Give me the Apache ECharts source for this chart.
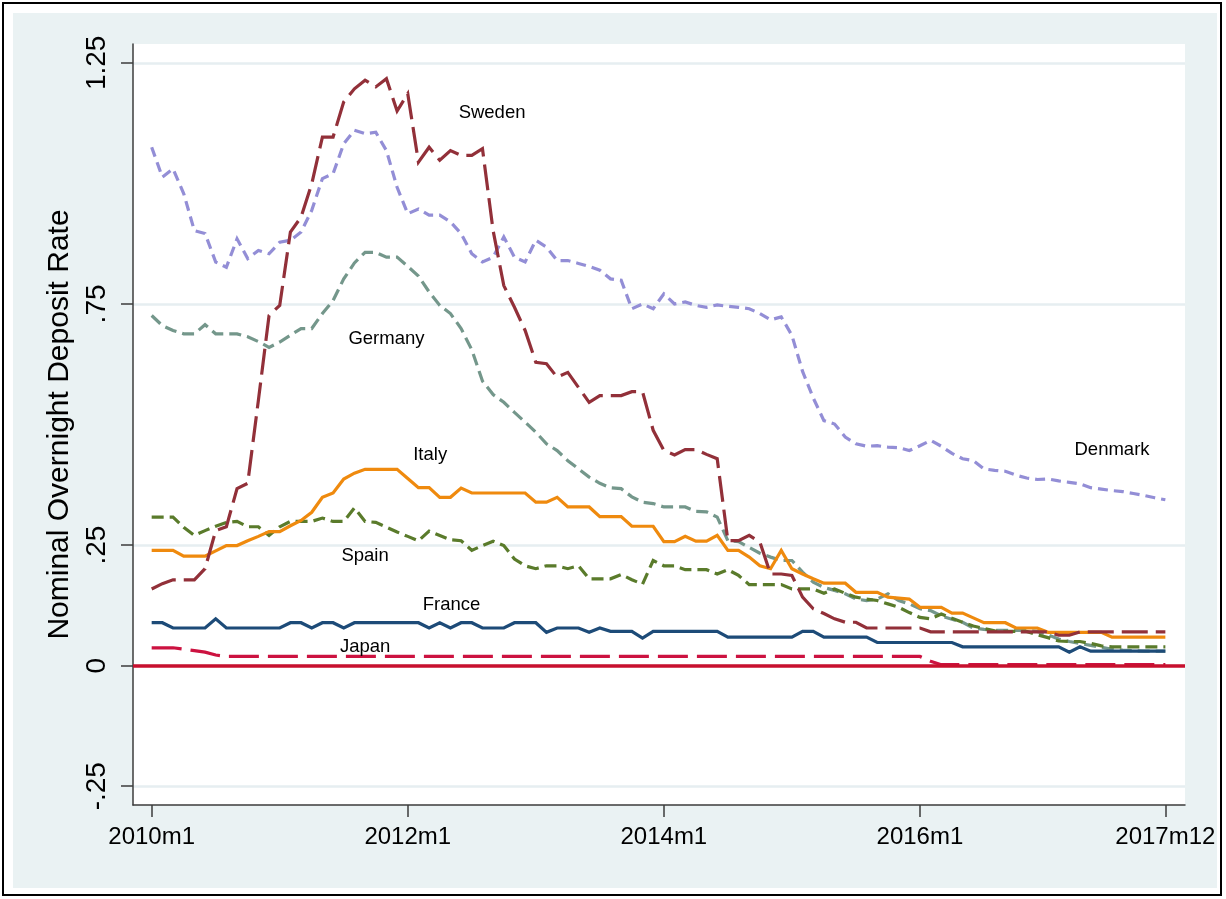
<!DOCTYPE html>
<html>
<head>
<meta charset="utf-8">
<title>Nominal Overnight Deposit Rate</title>
<script src="https://cdn.jsdelivr.net/npm/echarts@6/dist/echarts.min.js"></script>
<style>
  html, body { margin: 0; padding: 0; background: #ffffff; }
  #frame { position: absolute; left: 2px; top: 2px; width: 1220px; height: 894px;
           box-sizing: border-box; border: 2px solid #000; background: #ffffff; }
  #panel { position: absolute; left: 13px; top: 13px; width: 1204px; height: 875px; background: #eaf2f3; }
  #chart { position: absolute; left: 0; top: 0; width: 1226px; height: 899px; }
</style>
</head>
<body>
<div id="frame"></div>
<div id="panel"></div>
<div id="chart"></div>
<script>
// Monthly series, 2010m1 .. 2017m12 (index 0 .. 95)
const sweden = [
  0.159,0.170,0.178,0.178,0.178,0.201,0.280,0.288,0.367,0.378,
  0.550,0.726,0.747,0.899,0.930,0.999,1.096,1.096,1.169,1.196,
  1.214,1.200,1.217,1.150,1.186,1.044,1.075,1.048,1.068,1.058,
  1.058,1.072,0.902,0.788,0.743,0.695,0.629,0.626,0.598,0.608,
  0.577,0.546,0.560,0.560,0.560,0.568,0.568,0.488,0.446,0.437,
  0.448,0.448,0.438,0.429,0.259,0.259,0.270,0.256,0.190,0.190,
  0.187,0.142,0.118,0.108,0.097,0.090,0.090,0.078,0.078,0.078,
  0.078,0.078,0.078,0.070,0.070,0.070,0.070,0.070,0.070,0.070,
  0.070,0.070,0.070,0.070,0.070,0.063,0.063,0.070,0.070,0.070,
  0.070,0.070,0.070,0.070,0.070,0.070
];
const denmark = [
  1.075,1.013,1.030,0.979,0.902,0.896,0.837,0.826,0.885,0.844,
  0.861,0.854,0.878,0.882,0.899,0.944,1.010,1.020,1.082,1.110,
  1.103,1.106,1.068,0.992,0.937,0.947,0.934,0.934,0.920,0.896,
  0.854,0.837,0.847,0.889,0.847,0.837,0.882,0.868,0.840,0.840,
  0.834,0.828,0.820,0.802,0.799,0.740,0.750,0.740,0.771,0.750,
  0.754,0.747,0.743,0.748,0.745,0.743,0.740,0.730,0.717,0.723,
  0.685,0.610,0.555,0.508,0.501,0.474,0.460,0.455,0.456,0.453,
  0.452,0.446,0.456,0.467,0.455,0.440,0.429,0.425,0.408,0.405,
  0.403,0.395,0.389,0.386,0.387,0.383,0.380,0.377,0.369,0.366,
  0.363,0.361,0.357,0.353,0.348,0.344
];
const germany = [
  0.726,0.705,0.695,0.688,0.688,0.707,0.688,0.688,0.688,0.682,
  0.672,0.660,0.671,0.685,0.699,0.699,0.730,0.757,0.802,0.835,
  0.857,0.857,0.847,0.847,0.828,0.808,0.775,0.747,0.730,0.699,
  0.655,0.590,0.562,0.546,0.525,0.505,0.484,0.460,0.446,0.425,
  0.408,0.391,0.378,0.369,0.367,0.350,0.339,0.336,0.329,0.329,
  0.329,0.320,0.319,0.308,0.259,0.257,0.245,0.233,0.225,0.218,
  0.218,0.194,0.173,0.162,0.156,0.149,0.138,0.135,0.138,0.149,
  0.135,0.128,0.118,0.114,0.103,0.096,0.090,0.078,0.075,0.073,
  0.073,0.073,0.073,0.071,0.064,0.055,0.050,0.046,0.042,0.038,
  0.034,0.032,0.031,0.030,0.030,0.030
];
const italy = [
  0.239,0.239,0.239,0.227,0.227,0.227,0.238,0.249,0.249,0.259,
  0.268,0.278,0.278,0.290,0.301,0.318,0.349,0.358,0.387,0.399,
  0.407,0.407,0.407,0.407,0.388,0.369,0.369,0.349,0.349,0.368,
  0.358,0.358,0.358,0.358,0.358,0.358,0.339,0.339,0.349,0.329,
  0.329,0.329,0.309,0.309,0.309,0.289,0.289,0.289,0.257,0.257,
  0.268,0.258,0.258,0.270,0.239,0.239,0.225,0.207,0.201,0.239,
  0.201,0.190,0.180,0.171,0.171,0.171,0.152,0.152,0.152,0.142,
  0.140,0.138,0.121,0.121,0.121,0.109,0.109,0.099,0.089,0.089,
  0.089,0.078,0.078,0.078,0.069,0.069,0.069,0.069,0.069,0.069,
  0.059,0.059,0.059,0.059,0.059,0.059
];
const spain = [
  0.308,0.308,0.308,0.287,0.270,0.280,0.289,0.297,0.299,0.288,
  0.288,0.270,0.288,0.299,0.299,0.299,0.306,0.299,0.299,0.327,
  0.299,0.297,0.287,0.277,0.268,0.259,0.279,0.270,0.261,0.259,
  0.239,0.249,0.258,0.249,0.221,0.207,0.201,0.207,0.207,0.201,
  0.207,0.180,0.180,0.180,0.189,0.178,0.169,0.218,0.207,0.207,
  0.199,0.199,0.199,0.190,0.199,0.187,0.168,0.168,0.168,0.168,
  0.159,0.159,0.159,0.150,0.159,0.150,0.142,0.138,0.135,0.128,
  0.121,0.110,0.100,0.097,0.107,0.098,0.090,0.082,0.077,0.072,
  0.071,0.071,0.071,0.064,0.058,0.051,0.050,0.050,0.046,0.041,
  0.039,0.039,0.039,0.039,0.039,0.039
];
const france = [
  0.089,0.089,0.078,0.078,0.078,0.078,0.097,0.078,0.078,0.078,
  0.078,0.078,0.078,0.089,0.089,0.078,0.089,0.089,0.078,0.089,
  0.089,0.089,0.089,0.089,0.089,0.089,0.078,0.089,0.078,0.089,
  0.089,0.078,0.078,0.078,0.089,0.089,0.089,0.069,0.078,0.078,
  0.078,0.069,0.078,0.071,0.071,0.071,0.057,0.071,0.071,0.071,
  0.071,0.071,0.071,0.071,0.059,0.059,0.059,0.059,0.059,0.059,
  0.059,0.071,0.071,0.059,0.059,0.059,0.059,0.059,0.048,0.048,
  0.048,0.048,0.048,0.048,0.048,0.048,0.039,0.039,0.039,0.039,
  0.039,0.039,0.039,0.039,0.039,0.039,0.028,0.039,0.030,0.030,
  0.030,0.030,0.030,0.030,0.030,0.030
];
const japan = [
  0.037,0.037,0.037,0.034,0.031,0.028,0.022,0.019,0.019,0.019,
  0.019,0.019,0.019,0.019,0.019,0.019,0.019,0.019,0.019,0.019,
  0.019,0.019,0.019,0.019,0.019,0.019,0.019,0.019,0.019,0.019,
  0.019,0.019,0.019,0.019,0.019,0.019,0.019,0.019,0.019,0.019,
  0.019,0.019,0.019,0.019,0.019,0.019,0.019,0.019,0.019,0.019,
  0.019,0.019,0.019,0.019,0.019,0.019,0.019,0.019,0.019,0.019,
  0.019,0.019,0.019,0.019,0.019,0.019,0.019,0.019,0.019,0.019,
  0.019,0.019,0.019,0.009,0.002,0.002,0.002,0.002,0.002,0.002,
  0.002,0.002,0.002,0.002,0.002,0.002,0.002,0.002,0.002,0.002,
  0.002,0.002,0.002,0.002,0.002,0.002
];

// Axis ticks
const xTickMonths = [0, 24, 48, 72, 95];
const xTickLabels = ['2010m1', '2012m1', '2014m1', '2016m1', '2017m12'];
const yTickValues = [-0.25, 0, 0.25, 0.75, 1.25];
const yTickLabels = ['-.25', '0', '.25', '.75', '1.25'];

// In-plot country labels (month index, rate)
const labelNames  = ['Sweden', 'Germany', 'Italy', 'Spain', 'France', 'Japan', 'Denmark'];
const labelMonths = [31.9, 22.0, 26.1, 20.0, 28.1, 20.0, 90.0];
const labelRates  = [1.147, 0.678, 0.436, 0.227, 0.126, 0.038, 0.448];

const FONT = '"Liberation Sans", Arial, Helvetica, sans-serif';
const AXIS_COLOR = '#3c3c3c';

function pairs(arr) { return arr.map((v, i) => [i, v]); }

function lineSeries(name, data, color, dash) {
  return {
    name: name,
    type: 'line',
    data: pairs(data),
    showSymbol: false,
    symbol: 'none',
    silent: true,
    clip: true,
    lineStyle: { color: color, width: 3.2, type: dash, cap: 'butt', join: 'miter' }
  };
}

const chart = echarts.init(document.getElementById('chart'), null, { renderer: 'canvas' });

const series = [
  lineSeries('Denmark', denmark, '#938ed6', [10, 6]),
  lineSeries('Germany', germany, '#74978b', [12, 6]),
  lineSeries('Spain', spain, '#5a7b2b', [12, 6]),
  lineSeries('Italy', italy, '#ef8a0e', 'solid'),
  lineSeries('France', france, '#1d4b78', 'solid'),
  lineSeries('Sweden', sweden, '#923039', [26, 8]),
  lineSeries('Japan', japan, '#cc1240', [30, 9])
];

// Reference line at zero
series[series.length - 1].markLine = {
  silent: true,
  symbol: ['none', 'none'],
  label: { show: false },
  lineStyle: { color: '#c8102e', width: 3.5, type: 'solid' },
  data: [{ yAxis: 0 }]
};

// Country name annotations
series.push({
  name: 'labels',
  type: 'scatter',
  silent: true,
  symbol: 'circle',
  symbolSize: 0,
  itemStyle: { color: 'rgba(0,0,0,0)' },
  data: labelNames.map((n, i) => [labelMonths[i], labelRates[i], n]),
  label: {
    show: true,
    position: 'inside',
    align: 'center',
    verticalAlign: 'middle',
    formatter: p => p.data[2],
    fontFamily: FONT,
    fontSize: 18.5,
    color: '#000000',
    opacity: 1,
    textBorderWidth: 0
  },
  labelLayout: { hideOverlap: false },
  z: 10
});

chart.setOption({
  animation: false,
  backgroundColor: 'transparent',
  textStyle: { fontFamily: FONT },
  grid: {
    left: 133, top: 44, width: 1052, height: 761,
    show: true, backgroundColor: '#ffffff', borderWidth: 0
  },
  xAxis: {
    type: 'value',
    min: -1.75,
    max: 96.84,
    axisLine: { show: true, onZero: false, lineStyle: { color: AXIS_COLOR, width: 1.5 } },
    axisTick: { show: true, length: 12, customValues: xTickMonths, lineStyle: { color: AXIS_COLOR, width: 1.5 } },
    axisLabel: {
      customValues: xTickMonths,
      formatter: v => xTickLabels[xTickMonths.indexOf(v)],
      fontFamily: FONT, fontSize: 24, color: '#000000', margin: 20
    },
    splitLine: { show: false }
  },
  yAxis: {
    type: 'value',
    min: -0.289,
    max: 1.289,
    name: 'Nominal Overnight Deposit Rate',
    nameLocation: 'middle',
    nameRotate: 90,
    nameGap: 52,
    nameTextStyle: { fontFamily: FONT, fontSize: 30, color: '#000000' },
    axisLine: { show: true, onZero: false, lineStyle: { color: AXIS_COLOR, width: 1.5 } },
    axisTick: { show: true, length: 12, customValues: yTickValues, lineStyle: { color: AXIS_COLOR, width: 1.5 } },
    axisLabel: {
      customValues: yTickValues,
      rotate: 90,
      formatter: v => {
        const k = yTickValues.findIndex(t => Math.abs(t - v) < 1e-9);
        return k >= 0 ? yTickLabels[k] : '';
      },
      fontFamily: FONT, fontSize: 28, color: '#000000', margin: 22
    },
    splitLine: { show: true, lineStyle: { color: '#e6eef1', width: 2.5 } }
  },
  series: series
});
</script>
</body>
</html>
